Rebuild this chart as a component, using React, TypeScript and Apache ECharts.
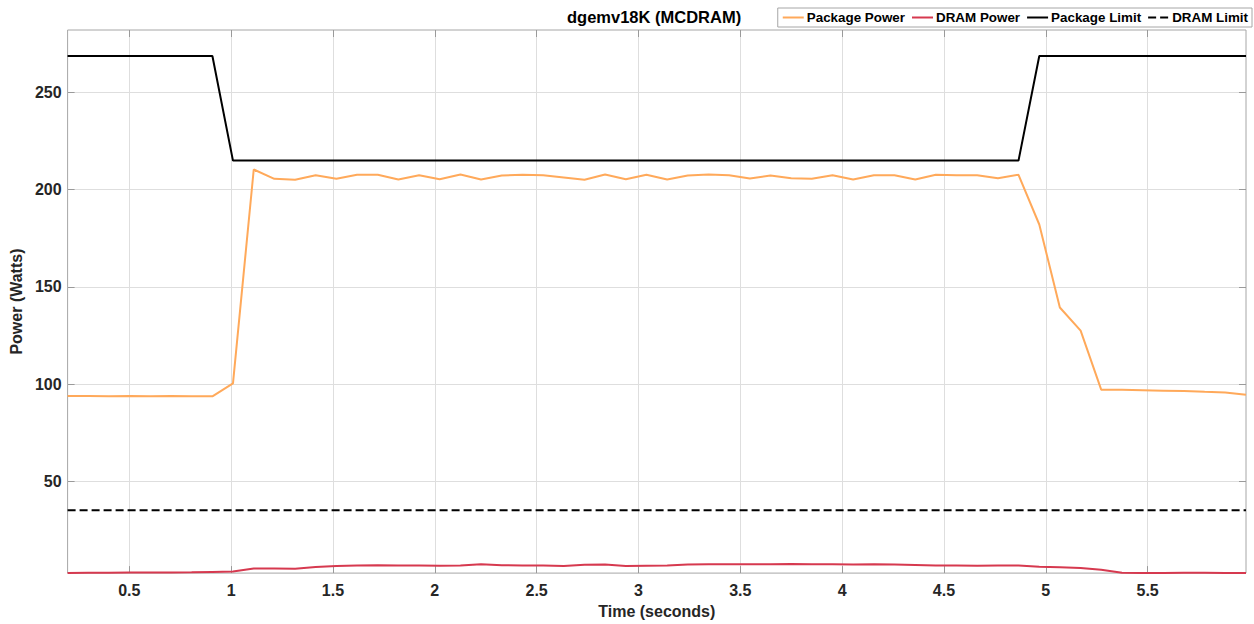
import React, { useEffect, useRef } from "react";
import * as echarts from "echarts";

const times = [
  0.197, 0.299, 0.4, 0.502, 0.603, 0.705, 0.806, 0.908, 1.009, 1.111,
  1.212, 1.314, 1.415, 1.517, 1.618, 1.72, 1.821, 1.923, 2.024, 2.126,
  2.227, 2.329, 2.43, 2.532, 2.633, 2.735, 2.836, 2.938, 3.039, 3.141,
  3.242, 3.344, 3.445, 3.547, 3.648, 3.75, 3.851, 3.953, 4.054, 4.156,
  4.257, 4.359, 4.46, 4.562, 4.663, 4.765, 4.866, 4.968, 5.069, 5.171,
  5.272, 5.374, 5.475, 5.577, 5.678, 5.78, 5.881, 5.983,
];

const packagePower = [
  93.9, 93.9, 93.7, 93.8, 93.7, 93.8, 93.7, 93.7, 100.3, 210.4,
  205.6, 205.1, 207.5, 205.6, 207.7, 207.7, 205.3, 207.5, 205.4, 207.8,
  205.3, 207.3, 207.7, 207.5, 206.3, 205.1, 207.8, 205.4, 207.7, 205.3,
  207.3, 207.8, 207.5, 205.8, 207.3, 205.9, 205.6, 207.5, 205.3, 207.5,
  207.5, 205.3, 207.7, 207.5, 207.5, 205.9, 207.7, 182.1, 139.4, 127.5,
  97.1, 97.0, 96.8, 96.6, 96.4, 96.0, 95.7, 94.5,
];

const dramPower = [
  2.8, 2.9, 2.9, 3.0, 3.0, 3.0, 3.1, 3.3, 3.5, 5.1,
  5.1, 5.0, 5.8, 6.4, 6.6, 6.7, 6.6, 6.6, 6.5, 6.6,
  7.3, 6.8, 6.6, 6.6, 6.4, 7.0, 7.1, 6.3, 6.5, 6.6,
  7.1, 7.3, 7.3, 7.3, 7.2, 7.4, 7.2, 7.3, 7.1, 7.2,
  7.1, 6.9, 6.6, 6.6, 6.5, 6.6, 6.6, 6.0, 5.7, 5.3,
  4.4, 2.9, 2.8, 2.8, 2.9, 2.9, 2.8, 2.7,
];

const packageLimit = [
  268.8, 268.8, 268.8, 268.8, 268.8, 268.8, 268.8, 268.8, 215, 215,
  215, 215, 215, 215, 215, 215, 215, 215, 215, 215,
  215, 215, 215, 215, 215, 215, 215, 215, 215, 215,
  215, 215, 215, 215, 215, 215, 215, 215, 215, 215,
  215, 215, 215, 215, 215, 215, 215, 268.8, 268.8, 268.8,
  268.8, 268.8, 268.8, 268.8, 268.8, 268.8, 268.8, 268.8,
];

const dramLimit = [
  35, 35, 35, 35, 35, 35, 35, 35, 35, 35,
  35, 35, 35, 35, 35, 35, 35, 35, 35, 35,
  35, 35, 35, 35, 35, 35, 35, 35, 35, 35,
  35, 35, 35, 35, 35, 35, 35, 35, 35, 35,
  35, 35, 35, 35, 35, 35, 35, 35, 35, 35,
  35, 35, 35, 35, 35, 35, 35, 35,
];

const xTicks = [0.5, 1, 1.5, 2, 2.5, 3, 3.5, 4, 4.5, 5, 5.5];
const yTicks = [50, 100, 150, 200, 250];

const X_MIN = 0.197;
const X_MAX = 5.983;
const Y_MIN = 2.7;
const Y_MAX = 282.2;

const FONT = "'Liberation Sans', Arial, Helvetica, sans-serif";

function pairs(vals: number[]) {
  return times.map((t, i) => [t, vals[i]]);
}

export default function App() {
  const ref = useRef<HTMLDivElement>(null);

  useEffect(() => {
    if (!ref.current) return;
    const chart = echarts.init(ref.current, undefined, { renderer: "svg" });
    const tickStyle = { color: "#9a9a9a", width: 1 };
    const gridLine = { show: true, lineStyle: { color: "#dedede", width: 1 } };
    const labelStyle = {
      color: "#262626",
      fontFamily: FONT,
      fontWeight: "bold" as const,
      fontSize: 16,
    };
    chart.setOption({
      animation: false,
      backgroundColor: "#ffffff",
      title: {
        text: "dgemv18K (MCDRAM)",
        left: 567,
        top: 8,
        padding: 0,
        textStyle: {
          fontFamily: FONT,
          fontWeight: "bold",
          fontSize: 16.5,
          color: "#000000",
        },
      },
      legend: {
        right: 2,
        top: 8,
        padding: [3, 4],
        itemGap: 6,
        itemWidth: 21,
        itemHeight: 12,
        backgroundColor: "#ffffff",
        borderColor: "#a6a6a6",
        borderWidth: 1,
        borderRadius: 0,
        itemStyle: { opacity: 0 },
        textStyle: {
          fontFamily: FONT,
          fontWeight: "bold",
          fontSize: 13.4,
          color: "#000000",
          padding: [0, 0, 0, -2],
        },
        data: ["Package Power", "DRAM Power", "Package Limit", "DRAM Limit"],
      },
      grid: {
        left: 64,
        right: 8,
        top: 30,
        bottom: 50,
        show: true,
        borderColor: "#a6a6a6",
        borderWidth: 1,
        backgroundColor: "#ffffff",
      },
      xAxis: [
        {
          type: "value",
          min: X_MIN,
          max: X_MAX,
          name: "Time (seconds)",
          nameLocation: "middle",
          nameGap: 28,
          nameTextStyle: { ...labelStyle, color: "#262626" },
          axisLine: { show: false },
          axisTick: { show: true, inside: true, length: 7, lineStyle: tickStyle, customValues: xTicks },
          axisLabel: { ...labelStyle, margin: 9, customValues: xTicks },
          splitLine: gridLine,
        },
        {
          type: "value",
          position: "top",
          min: X_MIN,
          max: X_MAX,
          axisLine: { show: false },
          axisTick: { show: true, inside: true, length: 7, lineStyle: tickStyle, customValues: xTicks },
          axisLabel: { show: false },
          splitLine: { show: false },
        },
      ],
      yAxis: [
        {
          type: "value",
          min: Y_MIN,
          max: Y_MAX,
          name: "Power (Watts)",
          nameLocation: "middle",
          nameGap: 34,
          nameTextStyle: { ...labelStyle, color: "#262626" },
          axisLine: { show: false },
          axisTick: { show: true, inside: true, length: 7, lineStyle: tickStyle, customValues: yTicks },
          axisLabel: { ...labelStyle, margin: 6, customValues: yTicks },
          splitLine: gridLine,
        },
        {
          type: "value",
          position: "right",
          min: Y_MIN,
          max: Y_MAX,
          axisLine: { show: false },
          axisTick: { show: true, inside: true, length: 7, lineStyle: tickStyle, customValues: yTicks },
          axisLabel: { show: false },
          splitLine: { show: false },
        },
      ],
      series: [
        {
          name: "Package Power",
          type: "line",
          data: pairs(packagePower),
          symbol: "none",
          showSymbol: false,
          itemStyle: { color: "#FFA95A" },
          lineStyle: { color: "#FFA95A", width: 2 },
          z: 3,
        },
        {
          name: "DRAM Power",
          type: "line",
          data: pairs(dramPower),
          symbol: "none",
          showSymbol: false,
          itemStyle: { color: "#D6394F" },
          lineStyle: { color: "#D6394F", width: 2 },
          z: 3,
        },
        {
          name: "Package Limit",
          type: "line",
          data: pairs(packageLimit),
          symbol: "none",
          showSymbol: false,
          itemStyle: { color: "#000000" },
          lineStyle: { color: "#000000", width: 2 },
          z: 3,
        },
        {
          name: "DRAM Limit",
          type: "line",
          data: pairs(dramLimit),
          symbol: "none",
          showSymbol: false,
          itemStyle: { color: "#000000" },
          lineStyle: { color: "#000000", width: 2, type: "dashed" },
          z: 3,
        },
      ],
    });
    return () => chart.dispose();
  }, []);

  return (
    <div
      ref={ref}
      style={{ position: "fixed", left: 0, top: 0, width: 1254, height: 624, background: "#fff" }}
    />
  );
}
